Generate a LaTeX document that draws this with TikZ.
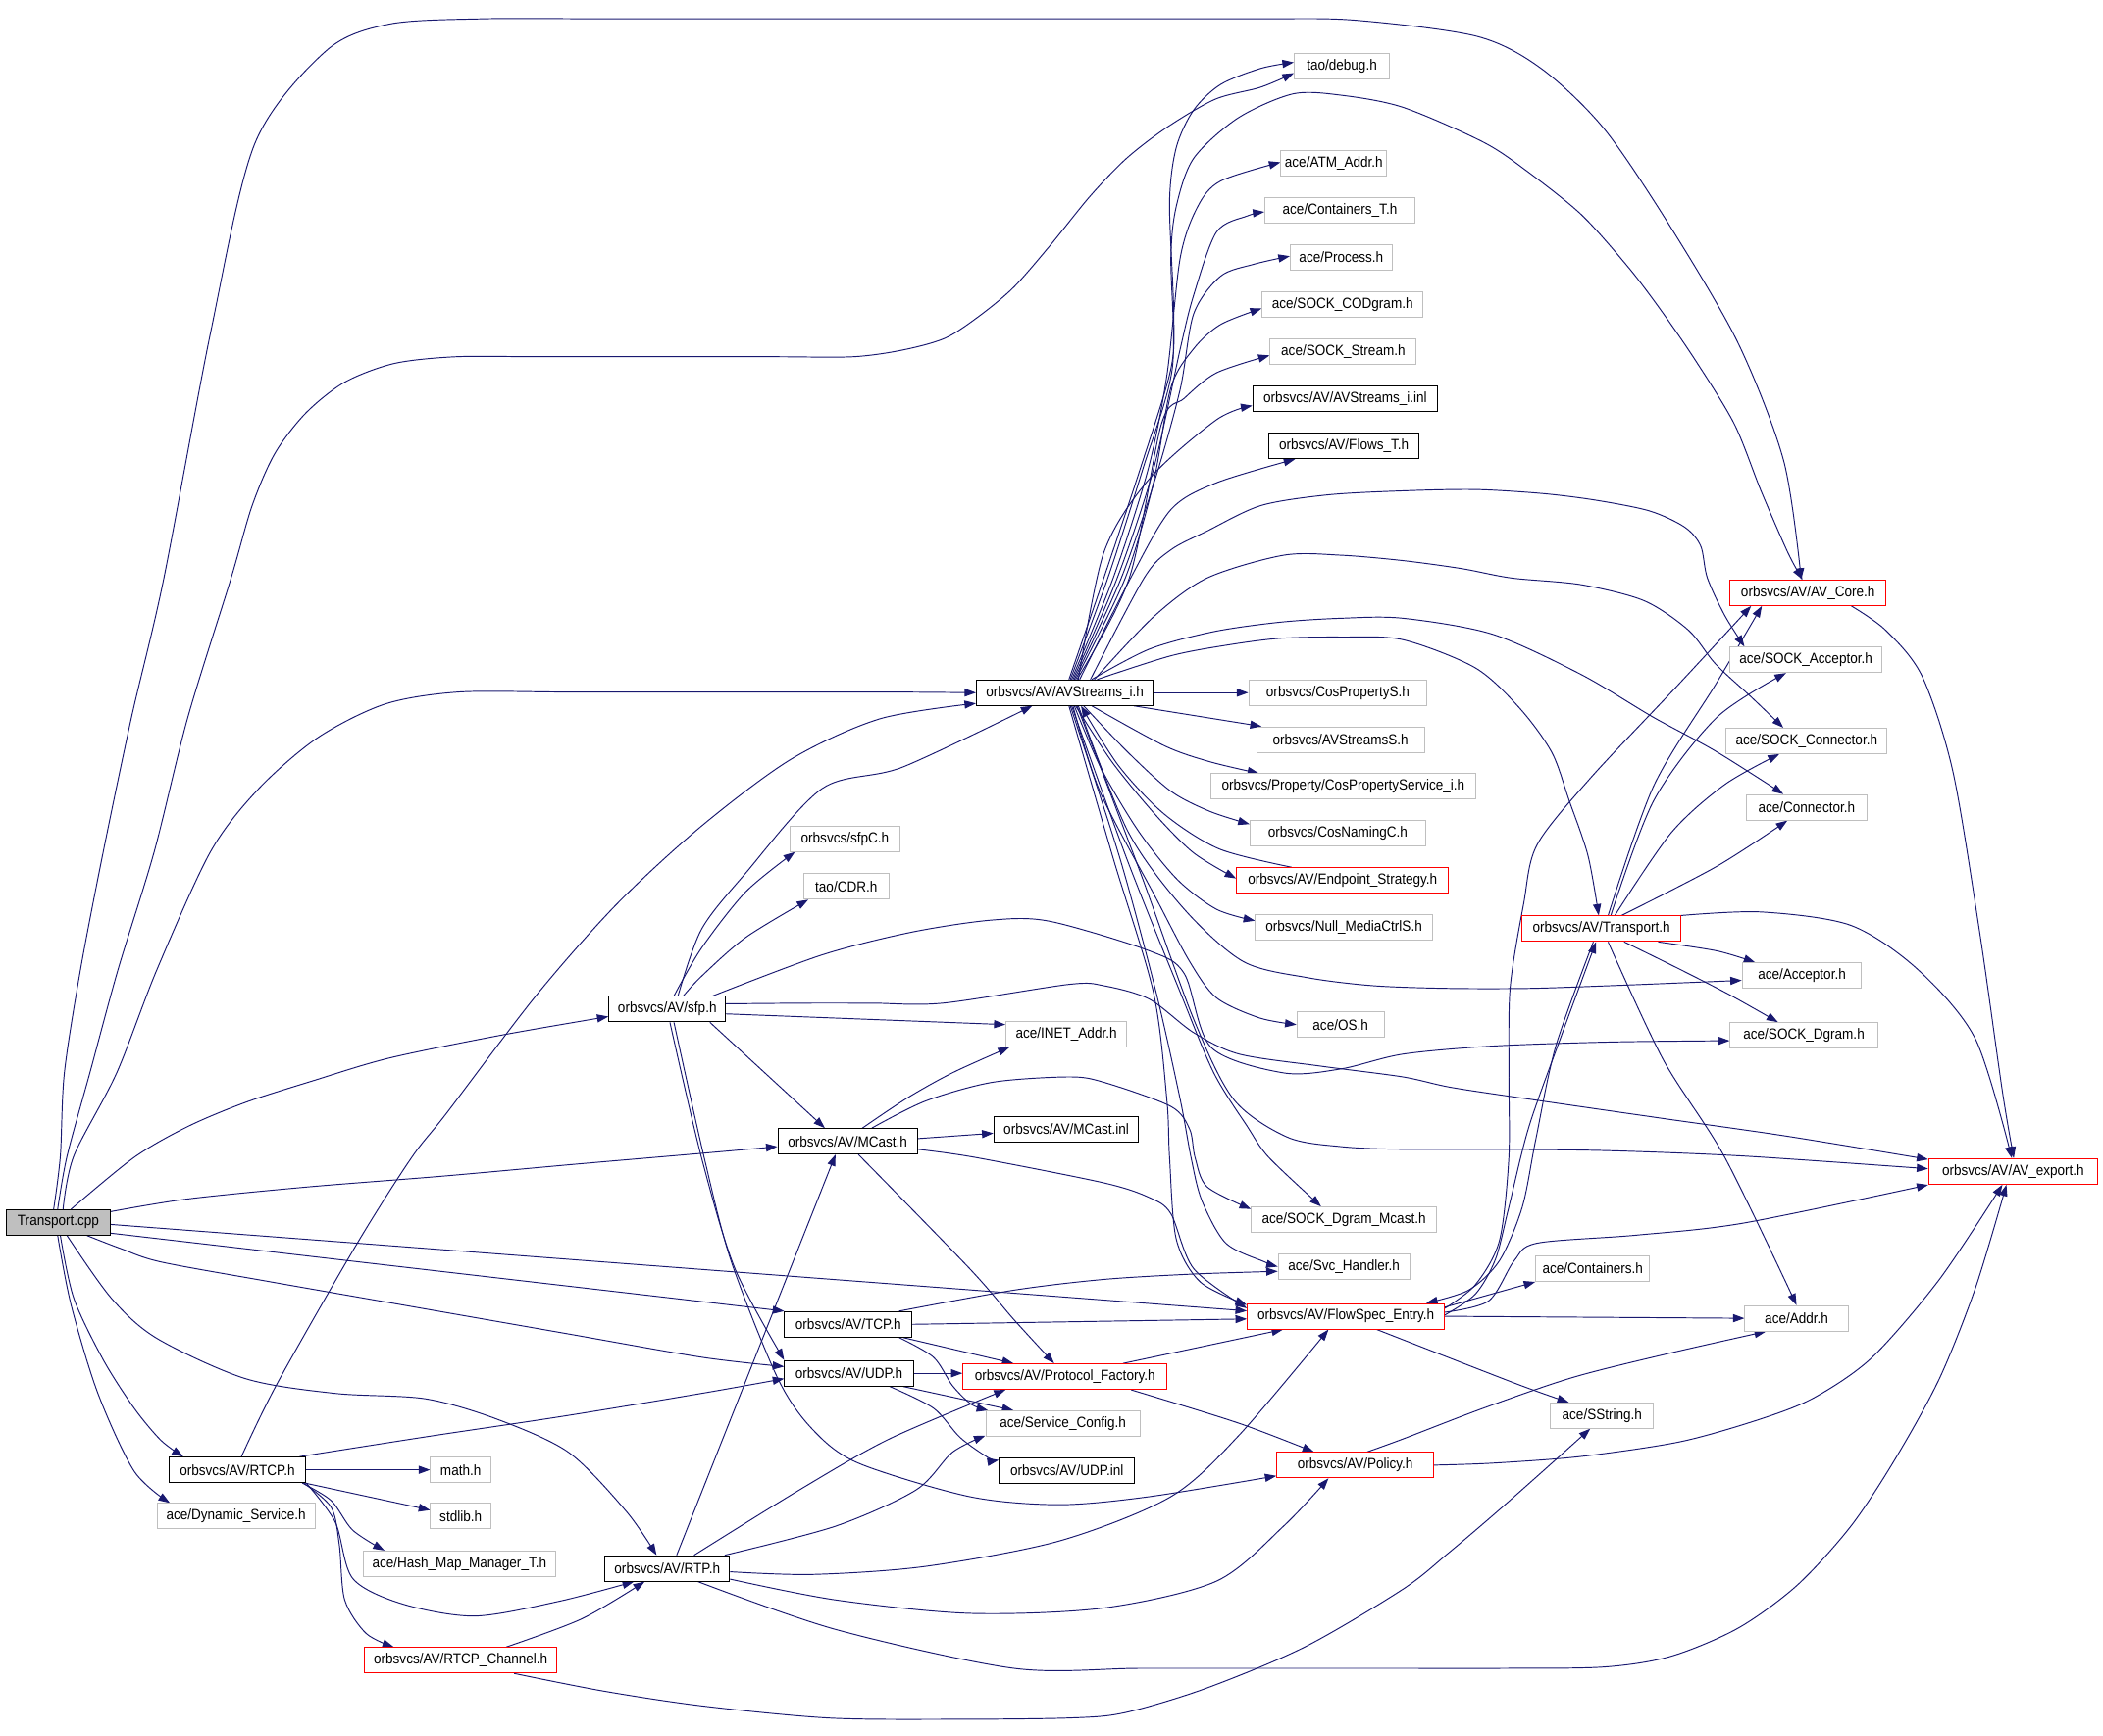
\documentclass[tikz,border=0pt]{standalone}
\usepackage{fontspec}
\setmainfont{Liberation Sans}[FakeStretch=0.9]
\usetikzlibrary{arrows.meta,calc}
\pgfdeclarelayer{bg}
\pgfsetlayers{bg,main}
\definecolor{edgec}{HTML}{191970}
\definecolor{grayb}{HTML}{BFBFBF}
\definecolor{redb}{HTML}{FF0000}
\tikzset{
 box/.style={draw, rectangle, minimum height=19pt, inner sep=0pt, fill=white, line width=0.7pt, font=\fontsize{11}{12}\selectfont},
 doc/.style={box, draw=black},
 undoc/.style={box, draw=grayb},
 trunc/.style={box, draw=redb},
 root/.style={box, draw=black, fill=grayb},
 e/.style={draw=edgec, line width=0.7pt, -{Triangle[length=8.5pt,width=6pt]}},
}
\newcommand\edgeplot[1]{\draw[e] plot[smooth, tension=0.5] coordinates {#1};}
\begin{document}
\begin{tikzpicture}[x=1pt,y=-1pt]
\useasboundingbox (0,0) rectangle (1568,1293.8);
% nodes
\node[root,minimum width=77pt] (tcpp) at (43.5,911.5) {Transport.cpp};
\node[undoc,minimum width=71pt] (debug) at (1000.5,49.5) {tao/debug.h};
\node[undoc,minimum width=79pt] (atm) at (994.5,122) {ace/ATM\_Addr.h};
\node[undoc,minimum width=112pt] (contT) at (999,157) {ace/Containers\_T.h};
\node[undoc,minimum width=76pt] (proc) at (1000,192) {ace/Process.h};
\node[undoc,minimum width=120pt] (cod) at (1001,227) {ace/SOCK\_CODgram.h};
\node[undoc,minimum width=109pt] (sstream) at (1001.5,262) {ace/SOCK\_Stream.h};
\node[doc,minimum width=138pt] (inl) at (1003,297.5) {orbsvcs/AV/AVStreams\_i.inl};
\node[doc,minimum width=112pt] (flows) at (1002,332.5) {orbsvcs/AV/Flows\_T.h};
\node[trunc,minimum width=116pt] (core) at (1348,442) {orbsvcs/AV/AV\_Core.h};
\node[undoc,minimum width=113pt] (sacc) at (1346.5,492) {ace/SOCK\_Acceptor.h};
\node[doc,minimum width=132pt] (avs) at (794,516.5) {orbsvcs/AV/AVStreams\_i.h};
\node[undoc,minimum width=133pt] (cosprop) at (997.5,516.5) {orbsvcs/CosPropertyS.h};
\node[undoc,minimum width=125pt] (avsS) at (999.5,551.5) {orbsvcs/AVStreamsS.h};
\node[undoc,minimum width=197pt] (cpsi) at (1001.5,586.5) {orbsvcs/Property/CosPropertyService\_i.h};
\node[undoc,minimum width=131pt] (naming) at (997.5,621.5) {orbsvcs/CosNamingC.h};
\node[trunc,minimum width=158pt] (endp) at (1001,656.5) {orbsvcs/AV/Endpoint\_Strategy.h};
\node[undoc,minimum width=132pt] (nullm) at (1002,691.5) {orbsvcs/Null\_MediaCtrlS.h};
\node[undoc,minimum width=120pt] (scon) at (1347,552.5) {ace/SOCK\_Connector.h};
\node[undoc,minimum width=90pt] (conn) at (1347,602) {ace/Connector.h};
\node[trunc,minimum width=118pt] (transh) at (1194,692.5) {orbsvcs/AV/Transport.h};
\node[undoc,minimum width=89pt] (acc) at (1343.5,727.5) {ace/Acceptor.h};
\node[undoc,minimum width=110pt] (sdgram) at (1345,772) {ace/SOCK\_Dgram.h};
\node[trunc,minimum width=126pt] (avexp) at (1501,873.5) {orbsvcs/AV/AV\_export.h};
\node[undoc,minimum width=82pt] (sfpC) at (630,625.5) {orbsvcs/sfpC.h};
\node[undoc,minimum width=64pt] (cdr) at (631,661) {tao/CDR.h};
\node[doc,minimum width=87pt] (sfp) at (497.5,752.5) {orbsvcs/AV/sfp.h};
\node[undoc,minimum width=90pt] (inet) at (795,771) {ace/INET\_Addr.h};
\node[undoc,minimum width=65pt] (os) at (999.5,764) {ace/OS.h};
\node[doc,minimum width=104pt] (mcast) at (632,851) {orbsvcs/AV/MCast.h};
\node[doc,minimum width=108pt] (mcinl) at (795,842) {orbsvcs/AV/MCast.inl};
\node[undoc,minimum width=138pt] (sdmc) at (1002,909.5) {ace/SOCK\_Dgram\_Mcast.h};
\node[undoc,minimum width=98pt] (svc) at (1002,944.5) {ace/Svc\_Handler.h};
\node[trunc,minimum width=147pt] (fse) at (1003.5,981.5) {orbsvcs/AV/FlowSpec\_Entry.h};
\node[undoc,minimum width=85pt] (conts) at (1187.5,946) {ace/Containers.h};
\node[undoc,minimum width=77pt] (addr) at (1339.5,983) {ace/Addr.h};
\node[doc,minimum width=95pt] (tcp) at (632.5,987.5) {orbsvcs/AV/TCP.h};
\node[doc,minimum width=96pt] (udp) at (633,1024) {orbsvcs/AV/UDP.h};
\node[trunc,minimum width=152pt] (pf) at (794,1026.5) {orbsvcs/AV/Protocol\_Factory.h};
\node[undoc,minimum width=115pt] (sc) at (792.5,1061.5) {ace/Service\_Config.h};
\node[doc,minimum width=101pt] (udpinl) at (795.5,1096.5) {orbsvcs/AV/UDP.inl};
\node[trunc,minimum width=117pt] (policy) at (1010.5,1092.5) {orbsvcs/AV/Policy.h};
\node[undoc,minimum width=77pt] (sstr) at (1194.5,1055.5) {ace/SString.h};
\node[doc,minimum width=102pt] (rtcp) at (177,1096) {orbsvcs/AV/RTCP.h};
\node[undoc,minimum width=45pt] (math) at (343.5,1096) {math.h};
\node[undoc,minimum width=45pt] (stdlib) at (343.5,1130.5) {stdlib.h};
\node[undoc,minimum width=118pt] (dyn) at (176,1130.5) {ace/Dynamic\_Service.h};
\node[undoc,minimum width=143pt] (hash) at (342.5,1166) {ace/Hash\_Map\_Manager\_T.h};
\node[doc,minimum width=93pt] (rtp) at (497.5,1169.5) {orbsvcs/AV/RTP.h};
\node[trunc,minimum width=143pt] (rtcpch) at (343.5,1238) {orbsvcs/AV/RTCP\_Channel.h};

\begin{pgfonlayer}{bg}
\fill[white] (0,0) rectangle (1568,1293.8);
% Transport.cpp
\edgeplot{($(tcpp.north)+(-3.5,0)$) (45,862) (48,800) (60,723) (77,635) (98,535) (122,432) (157,248) (190,107) (243,38) (290,18) (360,14) (450,14) (550,14) (650,14) (750,14) (850,14) (940,14) (1010,15) (1101,27) (1149,51) (1196,96) (1246,170) (1296,256) (1330,344) ($(core.north)+(-5,0)$)}
\edgeplot{($(tcpp.north)+(-0.5,0)$) (50,862) (67,800) (88,723) (115,635) (140,535) (172,432) (188,377) (205,338) (228,308) (257,285) (294,271) (340,266) (400,266) (460,266) (520,266) (580,266) (636,266) (673,261) (705,252) (731,235) (756,214) (783,183) (813,146) (840,118) (870,95) (906,74) (940,65) ($(debug.west)+(0,5)$)}
\edgeplot{($(tcpp.north)+(3.5,0)$) (55,862) (87,800) (117,723) (157,635) (193,588) (237,550) (287,525) (342,516) (420,516) (500,516) (580,516) (660,516) (avs.west)}
\edgeplot{($(tcpp.north)+(9.5,0)$) (100,863) (140,840) (183,822) (233,806) (290,789) (373,772) ($(sfp.west)+(0,5.5)$)}
\edgeplot{($(tcpp.east)+(0,-8)$) (140,894) (230,885) (330,877) (430,868) (523,860) ($(mcast.west)+(0,4)$)}
\draw[e] ($(tcpp.east)+(0,1.5)$) -- ($(fse.west)+(0,-4)$);
\draw[e] ($(tcpp.east)+(0,8)$) -- (tcp.north west);
\edgeplot{($(tcpp.south)+(21.5,0)$) (90,931) (120,941) (200,955.5) (300,973) (420,994) (523,1012) ($(udp.west)+(0,-5)$)}
\edgeplot{($(tcpp.south)+(6.5,0)$) (83,968) (117,998) (183,1028) (250,1039) (317,1043) (370,1058) (424,1083) (467,1127) ($(rtp.north)+(-8,0)$)}
\edgeplot{($(tcpp.south)+(1.5,0)$) (55,968) (77,1014) (100,1050) (120,1074) ($(rtcp.north west)+(11,0)$)}
\edgeplot{($(tcpp.south)+(-0.5,0)$) (53,973) (73,1039) (100,1097) ($(dyn.north west)+(10,0)$)}
% AVStreams_i.h fan upwards
\edgeplot{($(avs.north)+(3,0)$) (823,431) (850,350) (873,275) (875,230) (872,151) (877,110) (890,82) (910,63) (940,51) ($(debug.west)+(0,-3)$)}
\edgeplot{($(avs.north)+(4,0)$) (826,431) (852,350) (874,275) (873,192) (877,154) (890,118) (923,88) (964,70) (1000,71) (1046,80) (1106,106) (1139,128) (1179,160) (1213,198) (1236,228) (1263,267) (1293,316) (1313,366) (1333,412) ($(core.north)+(-4,0)$)}
\edgeplot{($(avs.north)+(5,0)$) (830,431) (856,350) (870,280) (880,192) (893,154) (910,135) ($(atm.west)+(0,-1)$)}
\edgeplot{($(avs.north)+(6,0)$) (833,431) (860,350) (880,260) (890,220) (907,173) (930,161) ($(contT.west)+(0,1)$)}
\edgeplot{($(avs.north)+(7,0)$) (836,431) (862,355) (880,290) (890,234) (910,206) (935,197) ($(proc.west)+(0,-1)$)}
\edgeplot{($(avs.north)+(8,0)$) (839,431) (860,360) (873,289) (890,260) (910,242) ($(cod.west)+(0,3)$)}
\edgeplot{($(avs.north)+(9,0)$) (842,431) (866,316) (883,297) (907,278) ($(sstream.west)+(0,3)$)}
\edgeplot{($(avs.north)+(10,0)$) (823,412) (857,357) (907,313) ($(inl.west)+(0,5)$)}
\edgeplot{($(avs.north)+(11,0)$) (843,431) (873,380) (907,360) ($(flows.south west)+(20,0)$)}
\edgeplot{($(avs.north)+(19,0)$) (853,431) (873,410) (900,396) (940,377) (990,369) (1046,366) (1100,365) (1150,368) (1190,373) (1230,381) (1256,393) (1268,407) (1273,431) (1286,459) ($(sacc.north west)+(11,0)$)}
\edgeplot{($(avs.north)+(22,0)$) (860,460) (900,431) (957,414) (1000,414) (1046,418) (1090,424) (1127,431) (1179,436) (1226,448) (1259,470) (1279,495) (1306,520) ($(scon.north west)+(43,0)$)}
\edgeplot{($(avs.north)+(20,0)$) (857,484) (905,471) (954,464) (1000,461) (1046,461) (1113,473) (1179,503) (1233,535) (1279,560) ($(conn.north west)+(28,0)$)}
\edgeplot{($(avs.north)+(24,0)$) (873,489) (915,481) (954,476) (1000,475) (1046,477) (1100,498) (1133,528) (1157,561) (1170,597) (1184,638) ($(transh.north)+(-2,0)$)}
% AVStreams_i.h to the right and downwards
\draw[e] (avs.east) -- (cosprop.west);
\draw[e] ($(avs.south east)+(-15,0)$) -- ($(avsS.north west)+(4,0)$);
\edgeplot{($(avs.south)+(20,0)$) (868,556) (902,568) ($(cpsi.north west)+(36,0)$)}
\edgeplot{($(avs.south)+(14,0)$) (841,561) (873,590) (902,605) ($(naming.west)+(0,-7)$)}
\edgeplot{($(avs.south)+(8,0)$) (829,568) (861,607) (890,636) ($(endp.west)+(0,-1.5)$)}
\edgeplot{($(endp.north)+(-38,0)$) (909,633) (868,607) (834,571) ($(avs.south)+(12,0)$)}
\edgeplot{($(avs.south)+(7,0)$) (821,573) (849,620) (878,656) (907,678) ($(nullm.west)+(0,-5)$)}
\edgeplot{($(avs.south)+(6,0)$) (820,590) (861,668) (887,717) (907,744) (939,759) (os.west)}
\edgeplot{($(avs.south)+(10,0)$) (841,620) (883,678) (927,717) (975,729) (1024,735) (1080,737) (1140,737) (1200,735) (1250,733) ($(acc.west)+(0,3.5)$)}
\edgeplot{($(avs.south)+(5,0)$) (840,640) (880,740) (905,800) (930,840) (946,863) ($(sdmc.north)+(-17,0)$)}
\edgeplot{($(avs.south)+(4,0)$) (835,640) (862,740) (880,820) (888,863) (896,895) (914,927) (943,941) (svc.west)}
\edgeplot{($(avs.south)+(3,0)$) (830,640) (860,740) (870,820) (872,863) (877,924) (895,956) ($(fse.west)+(0,-8.5)$)}
\edgeplot{($(avs.south)+(9,0)$) (850,650) (890,760) (920,820) (960,848) (1000,855) (1046,857) (1120,857) (1200,858) (1300,862) ($(avexp.west)+(0,-2)$)}
% sfp.h
\edgeplot{($(sfp.north)+(8,0)$) (523,693) (556,651) (613,588) (673,572) ($(avs.south west)+(42,0)$)}
\edgeplot{($(sfp.north)+(5,0)$) (523,707) (556,665) ($(sfpC.south west)+(4,0)$)}
\edgeplot{($(sfp.north)+(12,0)$) (523,728) (556,699) ($(cdr.south west)+(4,0)$)}
\draw[e] ($(sfp.east)+(0,3.5)$) -- ($(inet.west)+(0,-7)$);
\edgeplot{($(sfp.north east)+(-10,0)$) (613,712) (680,695) (740,686) (783,687) (857,709) (883,726) (903,781) (957,800) (1000,797) (1046,786) (1113,780) (1200,777) ($(sdgram.west)+(0,4)$)}
\edgeplot{($(sfp.east)+(0,-4)$) (600,748) (650,748) (703,748) (797,734) (823,735) (857,745) (890,770) (924,786) (985,795) (1046,803) (1083,811) (1150,821) (1240,834) (1331,847) ($(avexp.west)+(0,-9)$)}
\draw[e] ($(sfp.south east)+(-12,0)$) -- ($(mcast.north)+(-17,0)$);
\edgeplot{($(sfp.south)+(2,0)$) (523,863) (548,946) (udp.north west)}
\edgeplot{($(sfp.south)+(5,0)$) (525,863) (545,940) (580,1028) (606,1066) (640,1091) (723,1116) (790,1122) (857,1116) ($(policy.west)+(0,8)$)}
% MCast.h
\edgeplot{($(mcast.north)+(11,0)$) (676,819) (710,800) ($(inet.south west)+(3,0)$)}
\draw[e] ($(mcast.east)+(0,-2)$) -- ($(mcinl.west)+(0,3)$);
\edgeplot{($(mcast.north)+(18,0)$) (690,821) (740,807) (797,803) (823,807) (873,825) (887,842) (891,863) (900,885) ($(sdmc.west)+(0,-8)$)}
\edgeplot{($(mcast.east)+(0,6)$) (727,863) (823,882) (857,893) (873,905) (890,946) ($(fse.west)+(0,-6)$)}
\edgeplot{($(mcast.south)+(8,0)$) (723,946) (756,984) ($(pf.north)+(-8,0)$)}
% TCP.h
\edgeplot{($(tcp.north east)+(-10,0)$) (756,962) (823,954) (890,950) ($(svc.west)+(0,3.5)$)}
\draw[e] (tcp.east) -- ($(fse.west)+(0,2)$);
\draw[e] ($(tcp.south east)+(-7,0)$) -- ($(pf.north west)+(38,0)$);
\edgeplot{($(tcp.south east)+(-10,0)$) (696,1012) (710,1033) (724,1047) ($(sc.north west)+(2,0)$)}
% UDP.h
\draw[e] (udp.east) -- ($(pf.west)+(0,-2.5)$);
\draw[e] ($(udp.south east)+(-8,0)$) -- ($(sc.north west)+(21,0)$);
\edgeplot{($(udp.south east)+(-18,0)$) (696,1050) (716,1072) (737,1087) ($(udpinl.north west)+(0,2)$)}
% RTP.h
\draw[e] ($(rtp.north)+(7,0)$) -- ($(mcast.south)+(-9,0)$);
\edgeplot{($(rtp.north)+(20,0)$) (596,1111) (663,1073) ($(pf.south west)+(32,0)$)}
\edgeplot{($(rtp.north east)+(-4,0)$) (623,1138) (683,1111) (710,1083) ($(sc.west)+(0,9)$)}
\edgeplot{($(rtp.east)+(0,2.5)$) (606,1174) (690,1168) (790,1149) (873,1116) (924,1070) ($(fse.south)+(-13,0)$)}
\edgeplot{($(rtp.east)+(0,8)$) (623,1193) (723,1203) (823,1199) (907,1179) (957,1138) ($(policy.south)+(-20,0)$)}
\edgeplot{($(rtp.south east)+(-24,0)$) (623,1215) (756,1244) (850,1244) (950,1244) (1046,1244) (1120,1244) (1196,1243) (1246,1235) (1296,1214) (1340,1182) (1380,1138) (1413,1088) (1446,1028) (1473,960) ($(avexp.south)+(-5,0)$)}
% RTCP.h
\edgeplot{($(rtcp.north)+(3,0)$) (207,1031) (267,926) (307,863) (333,830) (400,742) (460,674) (523,616) (590,566) (656,536) ($(avs.west)+(0,8)$)}
\edgeplot{($(rtcp.north east)+(-5,0)$) (320,1071) (420,1056) (523,1039) ($(udp.west)+(0,4)$)}
\draw[e] (rtcp.east) -- (math.west);
\draw[e] ($(rtcp.south east)+(-1,0)$) -- ($(stdlib.west)+(0,-4.5)$);
\edgeplot{($(rtcp.south east)+(-3,0)$) (247,1119) (263,1141) ($(hash.north west)+(16,0)$)}
\edgeplot{($(rtcp.south east)+(0,0)$) (250,1135) (263,1177) (300,1196) (354,1205) (417,1194) ($(rtp.south west)+(22,0)$)}
\edgeplot{($(rtcp.south east)+(-2,0)$) (247,1124) (253,1152) (257,1193) (273,1218) ($(rtcpch.north west)+(22,0)$)}
% RTCP_Channel.h
\edgeplot{($(rtcpch.north east)+(-38,0)$) (434,1207) ($(rtp.south west)+(30,0)$)}
\edgeplot{($(rtcpch.south east)+(-32,0)$) (450,1261) (523,1272) (617,1281) (708,1282) (798,1281) (839,1277) (899,1259) (973,1228) (1046,1185) (1080,1158) (1113,1130) (1147,1100) ($(sstr.south west)+(30,0)$)}
% Protocol_Factory.h
\draw[e] ($(pf.north east)+(-33,0)$) -- ($(fse.south west)+(27,0)$);
\edgeplot{($(pf.south east)+(-27,0)$) (923,1061) ($(policy.north west)+(28,0)$)}
% FlowSpec_Entry.h
\draw[e] ($(fse.north east)+(0,3)$) -- (conts.south west);
\draw[e] (fse.east) -- (addr.west);
\edgeplot{($(fse.south)+(23,0)$) (1131,1032) ($(sstr.north west)+(14,0)$)}
\edgeplot{($(fse.east)+(0,-3)$) (1110,970) (1129,940) (1146,927) (1220,921) (1300,912) ($(avexp.west)+(0,10)$)}
\edgeplot{($(fse.east)+(0,-1)$) (1100,965) (1115,939) (1125,900) (1140,840) (1165,770) ($(transh.south)+(-4,0)$)}
\edgeplot{($(transh.south)+(-6,0)$) (1160,780) (1145,850) (1135,900) (1118,940) (1095,962) ($(fse.north east)+(-14,0)$)}
\edgeplot{($(fse.east)+(0,-6)$) (1100,958) (1118,925) (1125,863) (1125,800) (1126,736) (1136,674) (1146,630) (1186,580) (1250,512) ($(core.south west)+(16,0)$)}
% Transport.h
\edgeplot{($(transh.north)+(5,0)$) (1233,586) (1280,509) ($(core.south west)+(24,0)$)}
\edgeplot{($(transh.north)+(7,0)$) (1233,597) (1280,535) ($(sacc.south west)+(42,0)$)}
\edgeplot{($(transh.north)+(10,0)$) (1246,621) (1286,585) ($(scon.south west)+(40,0)$)}
\edgeplot{($(transh.north)+(15,0)$) (1280,646) ($(conn.south west)+(31,0)$)}
\edgeplot{($(transh.south east)+(-17,0)$) (1280,709) ($(acc.north west)+(10,0)$)}
\edgeplot{($(transh.south)+(17,0)$) (1253,723) (1290,742) ($(sdgram.north west)+(36,0)$)}
\edgeplot{($(transh.north east)+(0,0)$) (1313,680) (1380,690) (1430,723) (1473,775) ($(avexp.north)+(-1,0)$)}
\edgeplot{($(transh.south)+(5,0)$) (1240,790) (1286,863) (addr.north)}
% AV_Core.h
\edgeplot{($(core.south east)+(-26,0)$) (1406,470) (1433,504) (1456,575) (1476,695) (1493,814) ($(avexp.north)+(0.5,0)$)}
% Policy.h
\edgeplot{($(policy.north east)+(-50,0)$) (1046,1073) (1106,1050) (1173,1027) (1245,1009) ($(addr.south west)+(16,0)$)}
\edgeplot{(policy.east) (1113,1091) (1179,1086) (1253,1075) (1313,1058) (1353,1042) (1396,1012) (1446,954) ($(avexp.south)+(-8,0)$)}
\end{pgfonlayer}
\end{tikzpicture}
\end{document}
